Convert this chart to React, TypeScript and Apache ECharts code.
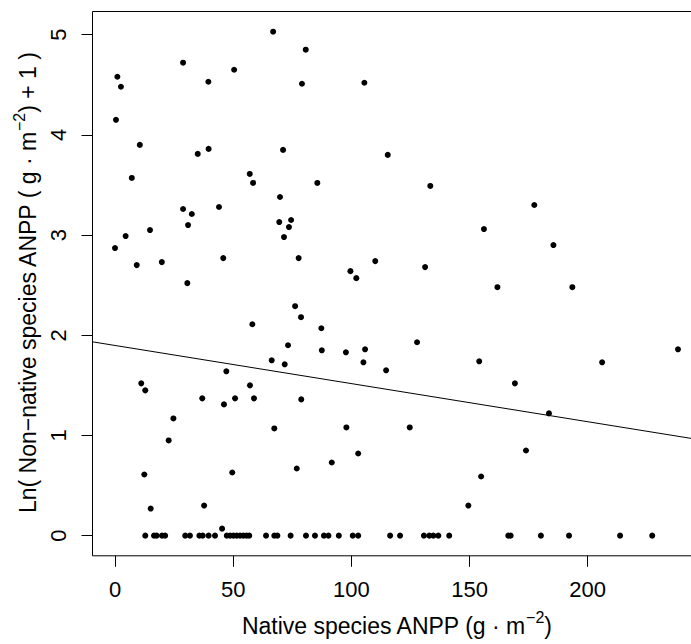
import React, { useEffect, useRef } from "react";
import * as echarts from "echarts";

// Native species ANPP (g m^-2) for points with non-zero non-native ANPP
const nativeANPP: number[] = [
  1.0, 2.5, 0.4, 28.8, 39.5, 50.4, 10.5, 7.1, 35.0, 39.6, 28.8, 32.5, 44.0,
  66.9, 80.7, 79.1, 105.5, 71.1, 115.4, 57.0, 58.4, 85.6, 133.4, 69.8,
  69.5, 74.5, 73.6, 71.5, 45.8, 77.7, 110.1, 99.6, 102.1, 131.2, 76.2, 78.7,
  58.1, 87.3, 73.2, 87.5, 97.7, 105.8, 127.8, 66.3, 71.8, 105.1, 114.7, 47.1,
  57.1, 46.1, 50.8, 58.8, 78.8,
  177.4, 156.1, 185.5, 161.8, 193.5, 238.2, 154.1, 206.1, 169.2, 183.6,
  30.9, 4.5, 14.8, 0.0, 9.2, 19.8, 30.6, 11.1, 12.8, 36.9, 24.7,
  22.7, 12.4, 49.6, 15.1, 37.7, 45.3,
  67.4, 97.9, 124.7, 76.9, 91.7, 102.9,
  173.9, 154.9, 149.5,
];
// Ln(non-native ANPP + 1) for the same points
const nonNativeLn: number[] = [
  4.58, 4.48, 4.15, 4.72, 4.53, 4.65, 3.9, 3.57, 3.81, 3.86, 3.26, 3.21, 3.28,
  5.03, 4.85, 4.51, 4.52, 3.85, 3.8, 3.61, 3.52, 3.52, 3.49, 3.38,
  3.13, 3.15, 3.08, 2.98, 2.77, 2.77, 2.74, 2.64, 2.57, 2.68, 2.29, 2.18,
  2.11, 2.07, 1.9, 1.85, 1.83, 1.86, 1.93, 1.75, 1.71, 1.73, 1.65, 1.64,
  1.5, 1.31, 1.37, 1.37, 1.36,
  3.3, 3.06, 2.9, 2.48, 2.48, 1.86, 1.74, 1.73, 1.52, 1.22,
  3.1, 2.99, 3.05, 2.87, 2.7, 2.73, 2.52, 1.52, 1.45, 1.37, 1.17,
  0.95, 0.61, 0.63, 0.27, 0.3, 0.07,
  1.07, 1.08, 1.08, 0.67, 0.73, 0.82,
  0.85, 0.59, 0.3,
];
// Native ANPP of plots with zero non-native ANPP (Ln(0+1) = 0)
const nativeAtZero: number[] = [
  12.8, 16.5, 17.6, 19.9, 21.2, 29.7, 31.7, 35.7, 37.1, 39.6, 42.3, 47.3,
  48.7, 50.1, 51.5, 52.9, 54.3, 55.7, 56.8, 63.9, 67.4, 68.7, 74.3, 80.8,
  84.6, 88.4, 90.3, 94.7, 100.6, 102.9, 116.4, 120.6, 130.7, 133.0, 134.7,
  136.8, 141.4, 166.4, 167.4, 180.2, 192.1, 213.7, 227.3,
];
// Fitted regression line
const fitIntercept = 1.898;
const fitSlope = -0.003805;

const xTicks: number[] = [0, 50, 100, 150, 200];
const yTicks: number[] = [0, 1, 2, 3, 4, 5];

const FONT = "'Liberation Sans', Arial, Helvetica, sans-serif";

export default function App() {
  const ref = useRef<HTMLDivElement>(null);
  useEffect(() => {
    if (!ref.current) return;
    const chart = echarts.init(ref.current, undefined, { renderer: "svg" });

    const allX = nativeANPP.concat(nativeAtZero);
    const allY = nonNativeLn.concat(nativeAtZero.map(() => 0));
    const xLo = Math.min(...allX), xHi = Math.max(...allX);
    const yLo = Math.min(...allY), yHi = Math.max(...allY);
    const xMin = xLo - 0.04 * (xHi - xLo);
    const xMax = xHi + 0.04 * (xHi - xLo);
    const yMin = yLo - 0.04 * (yHi - yLo);
    const yMax = yHi + 0.04 * (yHi - yLo);

    const pts = allX.map((x, i) => [x, allY[i]]);
    const fit = [
      [xMin, fitIntercept + fitSlope * xMin],
      [xMax, fitIntercept + fitSlope * xMax],
    ];

    const gridLeft = 92.5, gridTop = 11.5, gridW = 608, gridH = 544.3;

    const rich = (size: number) => ({
      n: { fontSize: size, fontFamily: FONT, color: "#000", lineHeight: 34 },
      s: {
        fontSize: Math.round(size * 0.7),
        fontFamily: FONT,
        color: "#000",
        lineHeight: 15,
        verticalAlign: "top",
      },
    });

    chart.setOption({
      animation: false,
      backgroundColor: "#fff",
      grid: {
        left: gridLeft,
        top: gridTop,
        width: gridW,
        height: gridH,
        show: true,
        borderColor: "#000",
        borderWidth: 1,
        backgroundColor: "transparent",
        outerBoundsMode: "none",
      },
      xAxis: {
        type: "value",
        min: xMin,
        max: xMax,
        splitLine: { show: false },
        axisLine: { show: false, onZero: false },
        axisTick: {
          show: true,
          length: 11,
          customValues: xTicks,
          lineStyle: { color: "#000", width: 1 },
        },
        axisLabel: {
          customValues: xTicks,
          fontSize: 22,
          fontFamily: FONT,
          color: "#000",
          margin: 23,
        },
      },
      yAxis: {
        type: "value",
        min: yMin,
        max: yMax,
        splitLine: { show: false },
        axisLine: { show: false, onZero: false },
        axisTick: {
          show: true,
          length: 11,
          customValues: yTicks,
          lineStyle: { color: "#000", width: 1 },
        },
        axisLabel: {
          customValues: yTicks,
          fontSize: 22,
          fontFamily: FONT,
          color: "#000",
          rotate: 90,
          margin: 23,
        },
      },
      series: [
        {
          type: "scatter",
          data: pts,
          symbol: "circle",
          symbolSize: 6,
          itemStyle: { color: "#000", opacity: 1 },
          silent: true,
        },
        {
          type: "line",
          data: fit,
          showSymbol: false,
          symbol: "none",
          clip: true,
          lineStyle: { color: "#000", width: 1 },
          silent: true,
        },
      ],
      graphic: [
        {
          type: "text",
          x: gridLeft + gridW / 2,
          y: 626,
          style: {
            text: "{n|Native species ANPP (g · m}{s|−2}{n|)}",
            rich: rich(23),
            align: "center",
            verticalAlign: "middle",
          },
        },
        {
          type: "text",
          x: 28,
          y: 283,
          rotation: Math.PI / 2,
          style: {
            text: "{n|Ln( Non−native species ANPP ( g · m}{s|−2}{n|) + 1 )}",
            rich: rich(23),
            align: "center",
            verticalAlign: "middle",
          },
        },
      ],
    });
    return () => chart.dispose();
  }, []);
  return (
    <div
      ref={ref}
      style={{ position: "fixed", left: 0, top: 0, width: 710, height: 644 }}
    />
  );
}
